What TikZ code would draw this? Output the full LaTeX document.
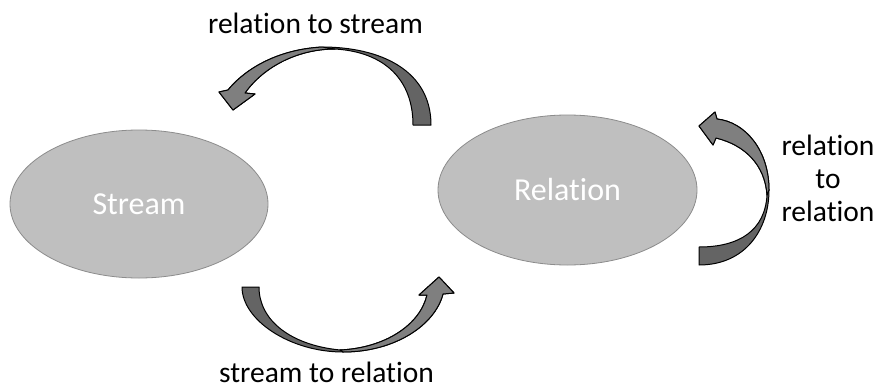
\documentclass[tikz,border=0pt]{standalone}
\usepackage{fontspec}
\setmainfont{Carlito}[Ligatures={NoCommon}]
\usetikzlibrary{shapes.geometric}
\definecolor{ellfill}{HTML}{BFBFBF}
\definecolor{ellline}{HTML}{8C8C8C}
\definecolor{arrdark}{HTML}{646464}
\definecolor{arrlight}{HTML}{7F7F7F}
\begin{document}
\begin{tikzpicture}[x=1pt,y=-1pt,
  blob/.style={ellipse, draw=ellline, line width=0.8pt, fill=ellfill, inner sep=0pt,
    minimum width=258pt, minimum height=148pt, text=white, font=\fontsize{32}{36}\selectfont},
  lbl/.style={text=black, font=\fontsize{29.5}{33}\selectfont, inner sep=0pt},
  bandarrow/.style={draw=black, line width=1pt, line join=round, fill=arrdark},
  bandhead/.style={draw=black, line width=1pt, line join=round, fill=arrlight}]
\useasboundingbox (0,0) rectangle (880,388);
\fill[white] (0,0) rectangle (880,388);

\node[blob] (stream) at (139,204) {Stream};
\node[blob, minimum width=259pt, minimum height=150pt] (relation) at (567.5,190) {Relation};

% top arrow: relation to stream
\draw[bandarrow] (431,125) .. controls (431,70) and (380,47) .. (322,47)
  .. controls (270,50) and (240,75) .. (228,90) -- (219,92) -- (233,110) -- (255,94) -- (245,93)
  .. controls (265,65) and (300,49) .. (335,49)
  .. controls (385,52) and (413,80) .. (413,125) -- cycle;
\draw[bandhead] (322,47)
  .. controls (270,50) and (240,75) .. (228,90) -- (219,92) -- (233,110) -- (255,94) -- (245,93)
  .. controls (265,65) and (300,49) .. (335,49) -- cycle;

% bottom arrow: stream to relation
\draw[bandarrow] (242,287) .. controls (242,320) and (290,352) .. (343,352)
  .. controls (395,352) and (435,325) .. (443,294) -- (454,293) -- (439,277) -- (419,295) -- (427,295)
  .. controls (420,325) and (385,348) .. (340,350)
  .. controls (290,345) and (259,320) .. (259,287) -- cycle;
\draw[bandhead] (343,352)
  .. controls (395,352) and (435,325) .. (443,294) -- (454,293) -- (439,277) -- (419,295) -- (427,295)
  .. controls (420,325) and (385,348) .. (340,350) -- cycle;

% right arrow: relation to relation
\draw[bandarrow] (699,265) .. controls (745,265) and (769,230) .. (769,190)
  .. controls (769,150) and (745,122) .. (717,119) -- (715,112) -- (699,126) -- (713,145) -- (716,138)
  .. controls (745,145) and (765,165) .. (767,195)
  .. controls (765,230) and (740,247) .. (699,247) -- cycle;
\draw[bandhead] (769,190)
  .. controls (769,150) and (745,122) .. (717,119) -- (715,112) -- (699,126) -- (713,145) -- (716,138)
  .. controls (745,145) and (765,165) .. (767,195) -- cycle;

\node[lbl, anchor=base] (l1) at (315.5,33) {relation to stream};
\node[lbl, anchor=base] (l2) at (326.5,382) {stream to relation};
\node[lbl, align=center, anchor=north] (l3) at (828,135) {relation\\to\\relation};
\end{tikzpicture}
\end{document}
